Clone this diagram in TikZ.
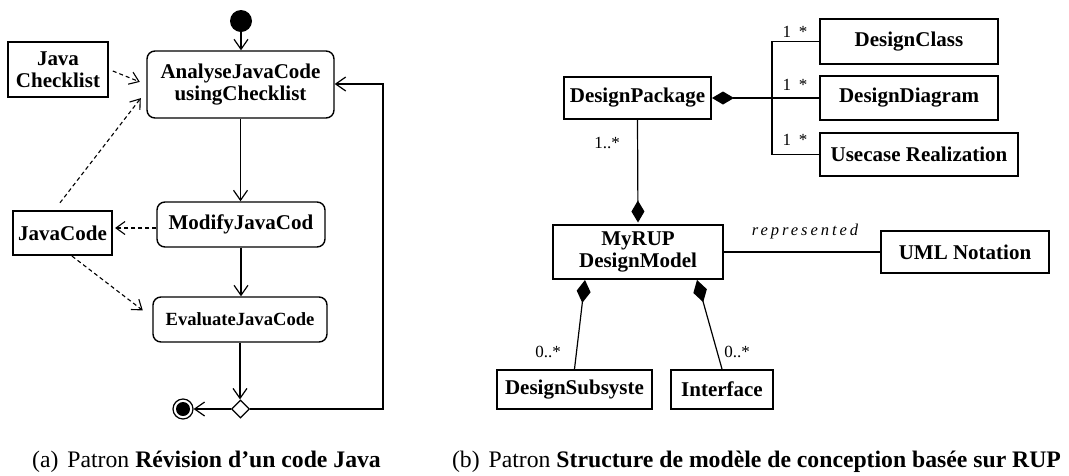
\documentclass[tikz,border=0pt]{standalone}
\usepackage{fontspec}
\setmainfont{Liberation Serif}
\usetikzlibrary{arrows.meta,shapes.geometric}
\newcommand\bxf{\fontsize{21}{22}\selectfont\bfseries}
\newcommand\smf{\fontsize{17}{19}\selectfont}
\begin{document}
\begin{tikzpicture}[x=1pt,y=-1pt,
  flow/.style={line width=1.2pt,-{Straight Barb[length=10pt,width=14pt,line width=1.2pt]}},
  dep/.style={line width=1.1pt,dash pattern=on 4pt off 3pt,-{Straight Barb[length=9pt,width=13pt,line width=1.1pt]}},
  action/.style={draw,rounded corners=8pt,line width=1.4pt,inner sep=0pt,align=center,font=\bxf},
  obj/.style={draw,line width=2.2pt,inner sep=0pt,align=center,font=\bxf},
  cls/.style={draw,line width=2pt,inner sep=0pt,align=center,font=\bxf},
  assoc/.style={line width=1.2pt},
  comp/.style={line width=1.2pt},
  mult/.style={font=\smf,inner sep=0pt}
]
\useasboundingbox (0,0) rectangle (1069,475);

% ---------- (a) ----------
\node[circle,fill,minimum size=22pt,inner sep=0pt] (init) at (241,21) {};
\node[action,minimum width=187pt,minimum height=67pt] (AJ) at (240.5,84.5) {AnalyseJavaCode\\usingChecklist};
\node[obj,minimum width=100pt,minimum height=55pt] (JC) at (58,69.5) {Java\\Checklist};
\node[action,minimum width=168pt,minimum height=45pt] (M) at (241,224.5) {ModifyJavaCod};
\node[obj,minimum width=99pt,minimum height=44pt] (JCd) at (62.5,233) {JavaCode};
\node[action,minimum width=174pt,minimum height=45pt,font=\fontsize{18.6}{20}\selectfont\bfseries] (E) at (240,319.5) {EvaluateJavaCode};
\node[diamond,draw,aspect=1,minimum width=18pt,minimum height=18pt,inner sep=0pt,line width=1.2pt] (D) at (240.5,409) {};
\node[circle,draw,minimum size=20pt,inner sep=0pt,line width=1.2pt,
  path picture={\fill (path picture bounding box.center) circle (7pt);}] (F) at (183,409) {};
\coordinate (loop) at (383,84);

\draw[flow] (init.south) -- (init.south |- AJ.north);
\draw[flow] (AJ.south) -- (AJ.south |- M.north);
\draw[flow] (M.south) -- (M.south |- E.north);
\draw[flow] (E.south) -- (E.south |- D.north);
\draw[flow] (D.west) -- (F.east);
\draw[flow] (D.east) -| (loop) -- (loop -| AJ.east);

\draw[dep,shorten <=4pt,shorten >=7pt] (JC.east) -- (AJ.west);
\draw[dep,shorten <=9pt,shorten >=9pt] ([xshift=-8pt]JCd.north) -- ([yshift=-6.5pt]AJ.west);
\coordinate (m1) at ([yshift=-3.5pt]M.west);
\draw[dep,shorten >=2pt] (m1) -- (m1 -| JCd.east);
\draw[dep,shorten >=12pt] ([xshift=9.5pt]JCd.south) -- ([yshift=1.8pt]E.west);

% ---------- (b) ----------
\node[cls,minimum width=147pt,minimum height=42pt] (DP) at (637.5,98) {DesignPackage};
\node[cls,minimum width=178pt,minimum height=45pt] (DC) at (909,41.5) {DesignClass};
\node[cls,minimum width=178pt,minimum height=44pt] (DD) at (909,98) {DesignDiagram};
\node[cls,minimum width=198pt,minimum height=43pt] (UR) at (919,154.5) {Usecase Realization};
\node[cls,minimum width=170pt,minimum height=54pt] (MR) at (638,252) {MyRUP\\DesignModel};
\node[cls,minimum width=168pt,minimum height=42pt] (UML) at (965,252) {UML Notation};
\node[cls,minimum width=155pt,minimum height=39pt] (DS) at (574.5,389.5) {DesignSubsyste};
\node[cls,minimum width=102pt,minimum height=39pt] (IF) at (722,389.5) {Interface};
\coordinate (bx) at (772,0);

\draw[comp,{Diamond[length=22pt,width=13pt]}-] (DP.east) -- (DD.west);
\draw[assoc] (DC.west) -- (DC.west -| bx) -- (UR.west -| bx) -- (UR.west);
\draw[comp,-{Diamond[length=22pt,width=13pt]}] (DP.south) -- ([yshift=1.5pt]MR.north);
\draw[comp,{Diamond[length=23pt,width=14pt]}-] ([xshift=-53pt]MR.south) -- (DS.north);
\draw[comp,{Diamond[length=23pt,width=14pt]}-] ([xshift=59pt]MR.south) -- (IF.north);
\draw[assoc] (MR.east) -- (UML.west);

\node[mult] (m1a) at (795,32) {1\hspace{8pt}*};
\node[mult] (m2a) at (795,85) {1\hspace{8pt}*};
\node[mult] (m3a) at (795,140) {1\hspace{8pt}*};
\node[mult] (m4a) at (607,143) {1..*};
\node[mult] (m5a) at (548,352) {0..*};
\node[mult] (m6a) at (737,352) {0..*};
\node[inner sep=0pt,anchor=base,font={\fontsize{16.5}{18}\selectfont\itshape\addfontfeature{LetterSpace=18}}] (rep) at (805,235) {represented};

% ---------- captions ----------
\node[inner sep=0pt,anchor=base,font=\fontsize{23.7}{26}\selectfont] (capa) at (206.5,467) {(a)\hspace{9pt}Patron \textbf{Révision d’un code Java}};
\node[inner sep=0pt,anchor=base,font=\fontsize{23.7}{26}\selectfont] (capb) at (756.5,467) {(b)\hspace{9pt}Patron \textbf{Structure de modèle de conception basée sur RUP}};
\end{tikzpicture}
\end{document}
